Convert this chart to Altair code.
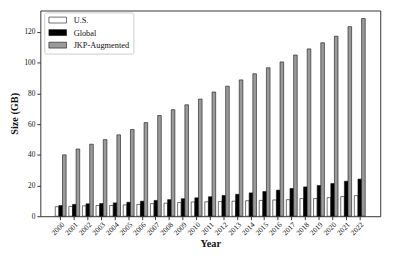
import altair as alt
import pandas as pd

years = [str(y) for y in range(2000, 2023)]
us = [6.2, 6.4, 6.8, 7.0, 7.0, 7.4, 7.7, 8.2, 8.5, 8.9, 9.3, 9.4, 9.6, 9.8, 10.1,
      10.3, 10.6, 10.8, 11.5, 11.5, 12.1, 12.8, 13.4]
glob = [7.0, 7.7, 8.1, 8.3, 8.7, 9.1, 9.8, 10.3, 10.8, 11.4, 12.0, 12.7, 13.5, 14.3,
        15.2, 16.1, 17.0, 18.1, 19.1, 20.0, 21.3, 22.8, 24.2]
jkp = [40.0, 43.8, 46.9, 49.9, 53.0, 56.5, 61.0, 65.6, 69.4, 72.6, 76.3, 80.9, 84.7,
       88.8, 92.8, 96.7, 100.5, 105.0, 109.0, 113.0, 117.3, 123.5, 128.8]
series = ["U.S.", "Global", "JKP-Augmented"]
colors = ["#ffffff", "#000000", "#9a9a9a"]
y_ticks = [0, 20, 40, 60, 80, 100, 120]

rows = []
for i, y in enumerate(years):
    for s, vals in zip(series, [us, glob, jkp]):
        rows.append({"year": y, "series": s, "size": vals[i]})
df = pd.DataFrame(rows)

FONT = "Liberation Serif"

chart = alt.Chart(df).mark_bar(stroke="#111111", strokeWidth=0.6).encode(
    x=alt.X("year:N", sort=years,
            scale=alt.Scale(paddingInner=0.2, paddingOuter=0.5, range=[8.3, 338.6]),
            axis=alt.Axis(title="Year", labelAngle=-45, labelAlign="right",
                          labelBaseline="top", labelFontSize=7.5, labelPadding=1,
                          tickSize=3.5, titleFontSize=10.5, titleFontWeight="bold",
                          titlePadding=2)),
    xOffset=alt.XOffset("series:N", sort=series, scale=alt.Scale(paddingInner=0, paddingOuter=0)),
    y=alt.Y("size:Q", scale=alt.Scale(domain=[0, 134], nice=False),
            axis=alt.Axis(title="Size (GB)", values=y_ticks, labelFontSize=7.5,
                          tickSize=3.5, labelPadding=2, titleFontSize=10.5,
                          titleFontWeight="bold", titlePadding=5)),
    fill=alt.Fill("series:N", sort=series,
                  scale=alt.Scale(domain=series, range=colors),
                  legend=alt.Legend(orient="none", legendX=4, legendY=2, title=None,
                                    symbolType="M-1,-1L5,-1L5,1L-1,1Z", symbolSize=36,
                                    symbolStrokeColor="#111111", symbolStrokeWidth=0.6,
                                    symbolOpacity=1, labelFont=FONT, labelFontSize=8.5,
                                    labelOffset=18, rowPadding=3.8, padding=3.5,
                                    fillColor="white", strokeColor="#cccccc",
                                    cornerRadius=2, labelColor="#111111")),
).properties(
    width=347, height=210,
    autosize=alt.AutoSizeParams(type="none"),
    padding={"left": 33, "top": 0, "right": 12, "bottom": 36},
).configure_view(
    stroke="#333333", strokeWidth=1
).configure_axis(
    labelFont=FONT, titleFont=FONT, grid=False, domain=False,
    tickColor="#333333", labelColor="#111111", titleColor="#111111"
)

chart.save("out.html", embed_options={"renderer": "svg", "actions": False})
